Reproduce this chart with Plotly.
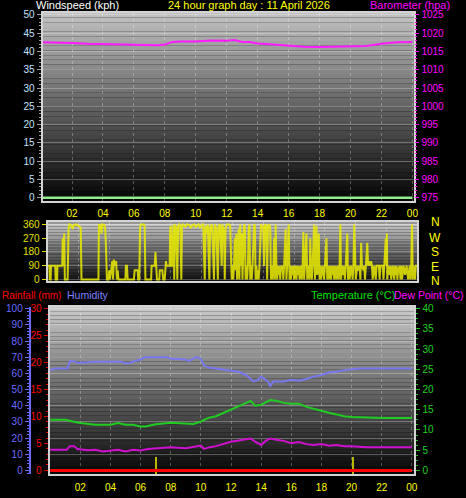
"""
24 hour weather station graph: wind/barometer, wind direction, rain/humidity/temperature.
"""

import plotly.graph_objects as go

W, H = 466, 498

# ---------------------------------------------------------------------------
# Data (hours since midnight)
# ---------------------------------------------------------------------------

wind_hours = [0.0, 24.0]
wind_kph = [0, 0]

baro_hours = [0, 1, 2, 3, 4, 5, 6, 7, 7.5, 8, 8.5, 9, 10, 11, 12, 12.5, 13, 13.5,
              14, 15, 16, 17, 18, 19, 20, 21, 22, 23, 24]
baro_hpa = [1017.5, 1017.5, 1017.3, 1017.1, 1017.0, 1017.1, 1017.0, 1016.8, 1016.7,
            1016.9, 1017.6, 1017.7, 1017.7, 1018.0, 1017.9, 1018.1, 1017.6, 1017.6,
            1017.2, 1016.9, 1016.5, 1016.3, 1016.2, 1016.3, 1016.5, 1016.5, 1017.1,
            1017.5, 1017.6]

dir_hours = [
    0.0, 0.12, 0.14, 0.2, 0.22, 0.5, 0.52, 0.62, 0.64, 0.95, 0.98, 1.02, 1.08, 1.12,
    1.3, 1.36, 1.42, 1.55, 1.62, 1.7, 1.85, 2.05, 2.15, 2.2, 3.3, 3.33, 3.45, 3.5,
    3.55, 3.7, 3.75, 3.8, 3.85, 3.95, 4.0, 4.05, 4.15, 4.2, 4.25, 4.3, 4.35, 4.45,
    4.5, 4.55, 4.6, 5.05, 5.08, 5.15, 5.2, 5.6, 5.65, 5.85, 5.88, 5.95, 6.0, 6.05,
    6.25, 6.3, 6.35, 6.72, 6.75, 6.95, 7.0, 7.04, 7.1, 7.25, 7.28, 7.45, 7.5, 7.6,
    7.68, 7.72, 7.92, 7.96, 8.0, 8.04, 8.1, 8.14, 8.18, 8.22, 8.27, 8.35, 8.42, 8.47,
    8.55, 8.62, 8.68, 8.72, 8.78, 8.95, 9.05, 9.2, 9.3, 9.4, 9.5, 9.6, 9.7, 9.8, 9.9,
    10.0, 10.1, 10.2, 10.25, 10.35, 10.4, 10.5, 10.55, 10.65, 10.7, 10.8, 10.85,
    10.95, 11.05, 11.1, 11.2, 11.3, 11.35, 11.45, 11.5, 11.55, 11.65, 11.75, 11.85,
    11.95, 12.0, 12.05, 12.1, 12.15, 12.2, 12.25, 12.3, 12.35, 12.4, 12.45, 12.5,
    12.55, 12.6, 12.65, 12.75, 12.8, 12.85, 12.9, 12.95, 13.0, 13.05, 13.1, 13.15,
    13.2, 13.25, 13.3, 13.4, 13.45, 13.5, 13.55, 13.6, 13.65, 13.7, 13.75, 13.85,
    13.9, 14.0, 14.05, 14.1, 14.2, 14.25, 14.3, 14.4, 14.45, 14.5, 14.55, 14.6,
    14.65, 14.7, 14.75, 14.8, 14.85, 14.9, 14.95, 15.0, 15.05, 15.1, 15.15, 15.2,
    15.25, 15.3, 15.35, 15.45, 15.5, 15.55, 15.65, 15.7, 15.75, 15.8, 15.85, 15.9,
    15.95, 16.0, 16.05, 16.1, 16.15, 16.2, 16.25, 16.3, 16.35, 16.4, 16.45, 16.5,
    16.55, 16.6, 16.65, 16.7, 16.8, 16.85, 16.9, 17.0, 17.05, 17.1, 17.15, 17.2,
    17.3, 17.35, 17.4, 17.45, 17.5, 17.55, 17.6, 17.65, 17.7, 17.75, 17.8, 17.85,
    17.95, 18.0, 18.1, 18.15, 18.2, 18.25, 18.3, 18.35, 18.4, 18.45, 18.5, 18.55,
    18.6, 18.7, 18.75, 18.8, 18.85, 18.9, 18.95, 19.0, 19.05, 19.1, 19.15, 19.2,
    19.3, 19.35, 19.45, 19.5, 19.55, 19.6, 19.65, 19.7, 19.8, 19.85, 19.9, 19.95,
    20.0, 20.1, 20.2, 20.25, 20.3, 20.35, 20.4, 20.5, 20.55, 20.6, 20.65, 20.75,
    20.8, 20.9, 20.95, 21.0, 21.05, 21.1, 21.2, 21.3, 21.35, 21.5, 21.55, 21.6,
    21.75, 21.8, 21.85, 21.95, 22.0, 22.02, 22.05, 22.1, 22.2, 22.25, 22.3, 22.35,
    22.4, 22.5, 22.55, 22.6, 22.65, 22.7, 22.75, 22.85, 22.9, 22.95, 23.0, 23.1,
    23.2, 23.3, 23.4, 23.5, 23.55, 23.6, 23.65, 23.7, 23.75, 23.85, 23.9, 24.0,
]
dir_deg = [
    90, 90, 0, 0, 90, 90, 0, 0, 90, 90, 270, 90, 300, 0,
    0, 330, 360, 350, 330, 355, 360, 350, 340, 0, 0, 360, 350, 300,
    360, 355, 320, 180, 0, 0, 60, 0, 90, 120, 0, 130, 90, 120,
    0, 60, 0, 0, 90, 90, 0, 0, 60, 60, 0, 0, 340, 360,
    360, 350, 0, 0, 90, 90, 180, 90, 0, 0, 60, 60, 0, 0,
    120, 90, 90, 330, 350, 90, 90, 270, 360, 0, 360, 330, 0, 350,
    360, 350, 0, 350, 360, 345, 360, 355, 340, 355, 360, 345, 355, 360, 340,
    355, 360, 0, 350, 300, 360, 0, 340, 360, 300, 0, 360,
    330, 0, 350, 360, 90, 360, 300, 0, 340, 360, 360, 355,
    0, 90, 0, 90, 270, 60, 300, 0, 90, 330, 0, 360,
    90, 300, 0, 360, 350, 0, 90, 0, 90, 330, 360, 0,
    90, 0, 90, 360, 355, 0, 90, 0, 60, 0, 90, 360,
    355, 340, 90, 360, 350, 0, 350, 360, 330, 0, 90, 0,
    60, 270, 0, 360, 90, 0, 90, 30, 90, 0, 90, 60,
    90, 0, 90, 330, 0, 90, 360, 0, 90, 0, 90, 30,
    90, 0, 60, 90, 0, 90, 30, 90, 0, 60, 90, 0,
    90, 310, 0, 90, 300, 0, 90, 0, 270, 60, 0, 90,
    360, 0, 90, 350, 30, 90, 300, 0, 90, 0, 60, 90,
    0, 90, 270, 0, 90, 0, 60, 90, 0, 90, 30, 90,
    0, 90, 0, 60, 90, 0, 90, 360, 0, 90, 30, 90,
    0, 90, 300, 0, 90, 0, 60, 90, 0, 90, 360, 90,
    0, 90, 60, 90, 0, 240, 90, 60, 90, 0, 90, 240,
    90, 120, 90, 120, 90, 0, 90, 0, 90, 90, 0, 90,
    90, 0, 90, 270, 90, 300, 0, 90, 30, 90, 0, 60,
    90, 0, 90, 30, 90, 0, 60, 90, 0, 90, 0, 90,
    30, 90, 0, 90, 0, 90, 360, 0, 90, 0, 90, 90,
]

climate_hours = [0, 0.3, 1.15, 1.3, 1.6, 1.8, 2.5, 3, 4, 4.7, 5, 5.3, 5.6, 6, 6.3,
                 7, 7.8, 8, 9, 9.2, 9.5, 9.7, 10, 10.2, 10.5, 11, 12, 12.5, 13,
                 13.5, 13.8, 14, 14.3, 14.5, 14.6, 14.8, 15.5, 16, 16.5, 17, 17.5,
                 18, 18.5, 19, 19.5, 20, 20.5, 21, 24]
humidity = [62, 63, 63, 67.5, 67.5, 66.4, 66.8, 67.2, 67.2, 67.2, 66.2, 66.4, 67.6,
            68.6, 70, 70, 70, 69, 68.6, 67.6, 69, 70, 69, 65, 63.6, 63, 62, 61, 59,
            55, 56, 58, 56, 54.5, 52, 55, 55, 56, 55.5, 56.5, 58, 59, 60.5, 61, 62,
            62.5, 63, 63, 63]

temp_hours = [0, 1, 1.5, 2, 3, 4, 4.5, 5, 5.5, 6, 6.3, 7, 8, 9, 9.5, 10, 10.5, 11,
              11.5, 12, 12.5, 13, 13.3, 13.6, 14, 14.3, 14.6, 15, 15.5, 16, 16.5,
              17, 17.5, 18, 18.5, 19, 19.5, 20, 21, 22, 24]
temperature = [12.5, 12.5, 12.1, 11.7, 11.3, 11.3, 11.7, 11.3, 11.3, 10.85, 10.85,
               11.4, 11.8, 11.7, 11.5, 12.1, 13.0, 13.4, 14.25, 15.1, 15.9, 16.6,
               17.2, 16.0, 16.2, 16.8, 17.4, 17.2, 16.7, 16.5, 16.5, 15.7, 15.2,
               14.6, 14.25, 13.85, 13.4, 13.2, 13.0, 12.95, 12.95]

dew_hours = [0, 1.1, 1.3, 1.6, 1.8, 2.5, 3, 3.5, 4.5, 5, 5.5, 6, 6.5, 7, 8, 9, 9.5,
             10, 10.2, 10.6, 11, 11.5, 12, 12.5, 13, 13.3, 13.6, 14, 14.3, 14.6, 15,
             15.5, 16, 16.5, 17, 17.5, 18, 18.5, 19, 19.5, 20, 20.5, 21, 24]
dew_point = [5.1, 5.1, 6.0, 6.0, 5.3, 5.0, 5.1, 4.7, 5.1, 4.7, 5.1, 4.9, 5.3, 5.5,
             5.75, 5.5, 5.9, 6.15, 5.3, 5.75, 6.0, 6.5, 7.1, 7.4, 7.7, 7.9, 7.1, 6.3,
             7.3, 7.9, 7.6, 7.3, 6.7, 7.0, 6.5, 6.3, 6.5, 6.1, 6.3, 6.0, 6.0, 5.85,
             5.75, 5.75]

rain_hours = [0, 24]
rain_mm = [0, 0]

marker_hours = [7.0, 20.1]     # yellow event bars
marker_height = [10.5, 10.5]

hour_ticks = list(range(2, 25, 2))
hour_labels = ["02", "04", "06", "08", "10", "12", "14", "16", "18", "20", "22", "00"]

# ---------------------------------------------------------------------------
# Helpers
# ---------------------------------------------------------------------------

FONT = "Liberation Sans, Arial, sans-serif"
GRID = "rgba(255,255,255,0.28)"
FRAME = "#d4d4d4"


def px_x(a, b):
    return [a / W, b / W]


def px_y(top, bottom):
    return [1 - bottom / H, 1 - top / H]


def gradient_shapes(xref, yref, top_grey, bottom_grey, n=40):
    shapes = []
    for i in range(n):
        f = i / (n - 1)
        g = int(bottom_grey + (top_grey - bottom_grey) * f)
        shapes.append(dict(
            type="rect", xref=f"{xref} domain", yref=f"{yref} domain",
            x0=0, x1=1, y0=i / n, y1=(i + 1) / n,
            fillcolor=f"rgb({g},{g},{g})", line=dict(width=0), layer="below",
        ))
    return shapes


def text(s, x, y, color, size=11, xanchor="left"):
    return dict(text=s, x=x / W, y=1 - y / H, xref="paper", yref="paper",
                xanchor=xanchor, yanchor="middle", showarrow=False,
                font=dict(family=FONT, size=size, color=color))


# ---------------------------------------------------------------------------
# Figure
# ---------------------------------------------------------------------------

fig = go.Figure()

# top panel
fig.add_trace(go.Scatter(x=baro_hours, y=baro_hpa, xaxis="x", yaxis="y2", mode="lines",
                         line=dict(color="#ff1aff", width=2)))
fig.add_trace(go.Scatter(x=wind_hours, y=wind_kph, xaxis="x", yaxis="y", mode="lines",
                         line=dict(color="#90ee90", width=2.5)))

# wind direction
fig.add_trace(go.Scatter(x=dir_hours, y=dir_deg, xaxis="x2", yaxis="y3", mode="lines",
                         line=dict(color="rgba(235,235,0,0.85)", width=2)))

# bottom panel
fig.add_trace(go.Bar(x=marker_hours, y=marker_height, base=-2.4, width=0.1,
                     xaxis="x3", yaxis="y4", marker=dict(color="#b8b800", line_width=0)))
fig.add_trace(go.Scatter(x=climate_hours, y=humidity, xaxis="x3", yaxis="y4", mode="lines",
                         line=dict(color="#7878f0", width=2)))
fig.add_trace(go.Scatter(x=temp_hours, y=temperature, xaxis="x3", yaxis="y6", mode="lines",
                         line=dict(color="#20cc20", width=2)))
fig.add_trace(go.Scatter(x=dew_hours, y=dew_point, xaxis="x3", yaxis="y6", mode="lines",
                         line=dict(color="#d010d0", width=2)))
fig.add_trace(go.Scatter(x=rain_hours, y=rain_mm, xaxis="x3", yaxis="y5", mode="lines",
                         line=dict(color="#ff0000", width=3)))

xcommon = dict(tickvals=hour_ticks, ticktext=hour_labels, showgrid=True, gridcolor=GRID,
               griddash="dot", zeroline=False, showline=True, linecolor=FRAME,
               linewidth=2, mirror=True, ticks="", ticklen=0,
               tickfont=dict(family=FONT, size=10, color="#ffff00"))
ycommon = dict(showgrid=True, gridcolor=GRID, zeroline=False, showline=True,
               linecolor=FRAME, linewidth=2, mirror=True, ticks="outside", ticklen=4)

fig.update_layout(
    width=W, height=H,
    margin=dict(l=0, r=0, t=0, b=0),
    paper_bgcolor="black", plot_bgcolor="black",
    showlegend=False, bargap=0,
    xaxis=dict(xcommon, domain=px_x(43, 418), range=[0.1, 24.13], anchor="y",
               ticklabelstandoff=2),
    yaxis=dict(ycommon, domain=px_y(9, 200), range=[-0.8, 50.54], dtick=5, tick0=0,
               tickcolor="#a0a0a0", anchor="x",
               tickfont=dict(family=FONT, size=10, color="#c4e2ff"),
               minor=dict(ticks="outside", ticklen=2, dtick=1, tickcolor="#a0a0a0")),
    yaxis2=dict(overlaying="y", side="right", anchor="x", range=[974.2, 1025.54],
                dtick=5, tick0=975, showgrid=False, zeroline=False, ticks="outside",
                ticklen=4, tickcolor="#ff00ff",
                tickfont=dict(family=FONT, size=10, color="#ff00ff"),
                minor=dict(ticks="outside", ticklen=2, dtick=1, tickcolor="#ff00ff")),
    xaxis2=dict(xcommon, domain=px_x(48, 421), range=[0, 24], anchor="y3",
                showticklabels=False),
    yaxis3=dict(ycommon, domain=px_y(221.7, 281.7), range=[-11, 375], dtick=90,
                tick0=0, anchor="x2", tickcolor="#e0e000",
                tickfont=dict(family=FONT, size=10, color="#e0e000")),
    xaxis3=dict(xcommon, domain=px_x(50, 418), range=[-0.04, 24.17], anchor="y5",
                ticklabelstandoff=3),
    yaxis4=dict(ycommon, domain=px_y(308, 478), range=[-2.43, 101.0], dtick=10,
                tick0=0, anchor="free", position=30 / W, showline=True,
                linecolor="#6a6aff", mirror=False, tickcolor="#6a6aff",
                tickfont=dict(family=FONT, size=10, color="#6a6aff"),
                minor=dict(ticks="outside", ticklen=2, dtick=2, tickcolor="#6a6aff")),
    yaxis5=dict(overlaying="y4", anchor="x3", side="left", range=[-0.73, 30.3],
                dtick=5, tick0=0, showgrid=False, zeroline=False, showline=True,
                linecolor=FRAME, linewidth=2, ticks="outside", ticklen=4,
                tickcolor="#e00000",
                tickfont=dict(family=FONT, size=10, color="#ff0000"),
                minor=dict(ticks="outside", ticklen=2, dtick=1, tickcolor="#e00000")),
    yaxis6=dict(overlaying="y4", anchor="x3", side="right", range=[-0.97, 40.4],
                dtick=5, tick0=0, showgrid=False, zeroline=False, showline=True,
                linecolor=FRAME, linewidth=2, ticks="outside", ticklen=4,
                tickcolor="#20c020",
                tickfont=dict(family=FONT, size=10, color="#20d020"),
                minor=dict(ticks="outside", ticklen=2, dtick=1.25, tickcolor="#20c020")),
)

shapes = []
shapes += gradient_shapes("x", "y", 192, 6)
shapes += gradient_shapes("x2", "y3", 200, 18)
shapes += gradient_shapes("x3", "y4", 200, 8)
fig.update_layout(shapes=shapes)

annotations = [
    text("Windspeed (kph)", 34, 1.5, "#ffffff", size=11),
    text("24 hour graph day : 11 April 2026", 251, 1.5, "#ffff00", xanchor="center"),
    text("Barometer (hpa)", 371, 1.5, "#ff00ff", size=11),
    text("Rainfall (mm)", 0, 296, "#ff0000", size=10),
    text("Humidity", 66, 296, "#8080ff", size=10.5),
    text("Temperature (°C)", 312, 296, "#00e000", size=11),
    text("Dew Point (°C)", 395, 296, "#ff00ff", size=10.5),
]
for label, yy in zip(["N", "W", "S", "E", "N"], [222, 238, 252.5, 267, 281.5]):
    annotations.append(text(label, 439, yy, "#ffff00", size=12, xanchor="center"))
fig.update_layout(annotations=annotations)

# page body has a default 8px margin; drop it so the figure fills the window
fig.write_html("out.html", config={"displayModeBar": False},
               post_script="document.body.style.margin = '0px';")
